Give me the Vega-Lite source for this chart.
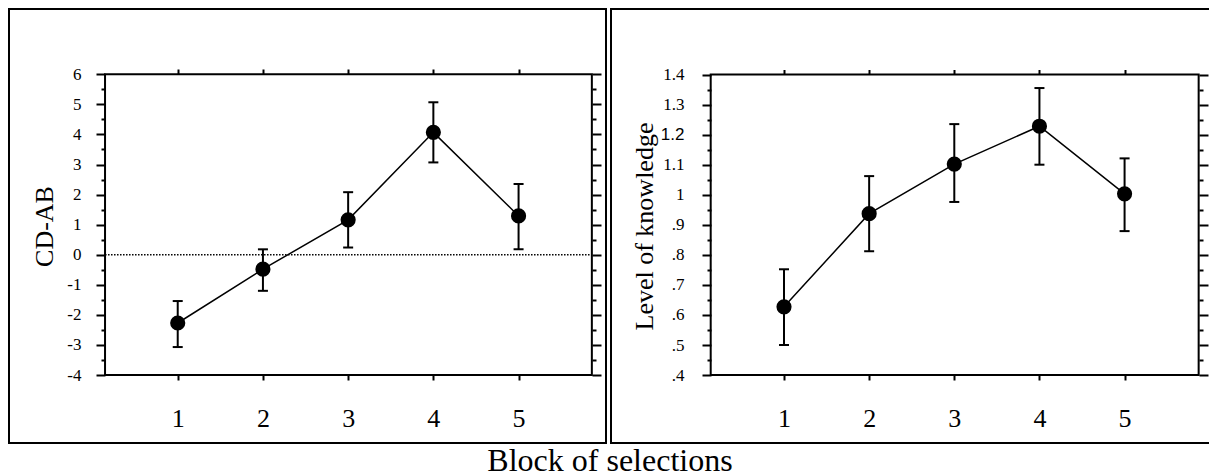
{
  "$schema": "https://vega.github.io/schema/vega-lite/v6.json",
  "padding": {"left": 8, "top": 8, "right": 0, "bottom": 0},
  "background": "white",
  "spacing": 3,
  "title": {"text": "Block of selections", "orient": "bottom", "anchor": "middle", "fontSize": 32, "font": "Liberation Serif", "fontWeight": "normal", "color": "black", "offset": 2},
  "config": {
    "view": {"stroke": "black", "strokeWidth": 2},
    "axis": {"domain": false, "grid": false, "tickColor": "black", "tickWidth": 2, "labelColor": "black", "labelFont": "Liberation Serif", "titleFont": "Liberation Serif", "titleColor": "black", "titleFontWeight": "normal", "labelFlush": false, "labelOverlap": false}
  },
  "hconcat": [
    {
      "width": 597,
      "height": 434,
      "data": {"values": [
        {"block": 1, "mean": -2.27, "lo": -3.07, "hi": -1.54},
        {"block": 2, "mean": -0.48, "lo": -1.2, "hi": 0.18},
        {"block": 3, "mean": 1.16, "lo": 0.24, "hi": 2.08},
        {"block": 4, "mean": 4.07, "lo": 3.07, "hi": 5.07},
        {"block": 5, "mean": 1.29, "lo": 0.18, "hi": 2.35}
      ]},
      "resolve": {"axis": {"x": "independent", "y": "independent"}},
      "layer": [
        {
          "data": {"values": [{}]},
          "mark": {"type": "rect", "fillOpacity": 0, "stroke": "black", "strokeWidth": 2},
          "encoding": {
            "x": {"datum": 0.147, "type": "quantitative", "scale": {"domain": [-0.98, 6.026], "nice": false, "zero": false},
                  "axis": {"orient": "bottom", "offset": -68, "values": [1, 2, 3, 4, 5], "tickSize": 5, "labelFont": "Liberation Serif", "labelFontSize": 26, "labelPadding": 25, "title": null}},
            "x2": {"datum": 5.86},
            "y": {"datum": -4, "type": "quantitative", "scale": {"domain": [-6.261, 8.172], "nice": false, "zero": false},
                  "axis": {"orient": "left", "offset": -96, "values": [-4, -3, -2, -1, 0, 1, 2, 3, 4, 5, 6], "tickSize": 9, "labelExpr": "datum.value + ''", "labelFont": {"condition": {"test": "datum.value > 100", "value": "Liberation Sans"}, "value": "Liberation Serif"}, "labelFontSize": 17, "labelPadding": 15, "title": "CD-AB", "titleFont": "Liberation Serif", "titleFontSize": 26, "titlePadding": 9}},
            "y2": {"datum": 6}
          }
        },
        {
          "data": {"values": [{}]},
          "mark": {"type": "rule", "stroke": "black", "strokeWidth": 1.3, "strokeDash": [1.5, 1.5]},
          "encoding": {
            "x": {"datum": 0.147, "type": "quantitative", "scale": {"domain": [-0.98, 6.026], "nice": false, "zero": false},
                  "axis": {"orient": "top", "offset": -65, "values": [1, 2, 3, 4, 5], "tickSize": 5, "labels": false, "title": null}},
            "x2": {"datum": 5.86},
            "y": {"datum": 0, "type": "quantitative", "scale": {"domain": [-6.261, 8.172], "nice": false, "zero": false},
                  "axis": {"orient": "right", "offset": -14, "values": [-4, -3, -2, -1, 0, 1, 2, 3, 4, 5, 6], "tickSize": 9, "labels": false, "title": null}}
          }
        },
        {
          "mark": {"type": "rule", "stroke": "black", "strokeWidth": 2},
          "encoding": {
            "x": {"field": "block", "type": "quantitative", "scale": {"domain": [-0.98, 6.026], "nice": false, "zero": false}, "axis": null},
            "y": {"field": "lo", "type": "quantitative", "scale": {"domain": [-6.261, 8.172], "nice": false, "zero": false},
                  "axis": {"orient": "left", "offset": -96, "values": [-3.5, -2.5, -1.5, -0.5, 0.5, 1.5, 2.5, 3.5, 4.5, 5.5], "tickSize": 4, "labels": false, "title": null}},
            "y2": {"field": "hi"}
          }
        },
        {
          "mark": {"type": "tick", "orient": "horizontal", "size": 10, "thickness": 2, "color": "black", "opacity": 1},
          "encoding": {
            "x": {"field": "block", "type": "quantitative", "scale": {"domain": [-0.98, 6.026], "nice": false, "zero": false}, "axis": null},
            "y": {"field": "lo", "type": "quantitative", "scale": {"domain": [-6.261, 8.172], "nice": false, "zero": false},
                  "axis": {"orient": "right", "offset": -14, "values": [-3.5, -2.5, -1.5, -0.5, 0.5, 1.5, 2.5, 3.5, 4.5, 5.5], "tickSize": 4, "labels": false, "title": null}}
          }
        },
        {
          "mark": {"type": "tick", "orient": "horizontal", "size": 10, "thickness": 2, "color": "black", "opacity": 1},
          "encoding": {
            "x": {"field": "block", "type": "quantitative", "scale": {"domain": [-0.98, 6.026], "nice": false, "zero": false}, "axis": null},
            "y": {"field": "hi", "type": "quantitative", "scale": {"domain": [-6.261, 8.172], "nice": false, "zero": false}, "axis": null}
          }
        },
        {
          "mark": {"type": "line", "stroke": "black", "strokeWidth": 1.5},
          "encoding": {
            "x": {"field": "block", "type": "quantitative", "scale": {"domain": [-0.98, 6.026], "nice": false, "zero": false}, "axis": null},
            "y": {"field": "mean", "type": "quantitative", "scale": {"domain": [-6.261, 8.172], "nice": false, "zero": false}, "axis": null}
          }
        },
        {
          "mark": {"type": "circle", "size": 230, "color": "black", "opacity": 1},
          "encoding": {
            "x": {"field": "block", "type": "quantitative", "scale": {"domain": [-0.98, 6.026], "nice": false, "zero": false}, "axis": null},
            "y": {"field": "mean", "type": "quantitative", "scale": {"domain": [-6.261, 8.172], "nice": false, "zero": false}, "axis": null}
          }
        }
      ]
    },
    {
      "width": 600,
      "height": 434,
      "data": {"values": [
        {"block": 1, "mean": 0.627, "lo": 0.5, "hi": 0.752},
        {"block": 2, "mean": 0.937, "lo": 0.812, "hi": 1.062},
        {"block": 3, "mean": 1.102, "lo": 0.976, "hi": 1.235},
        {"block": 4, "mean": 1.228, "lo": 1.1, "hi": 1.355},
        {"block": 5, "mean": 1.003, "lo": 0.879, "hi": 1.121}
      ]},
      "resolve": {"axis": {"x": "independent", "y": "independent"}},
      "layer": [
        {
          "data": {"values": [{}]},
          "mark": {"type": "rect", "fillOpacity": 0, "stroke": "black", "strokeWidth": 2},
          "encoding": {
            "x": {"datum": 0.139, "type": "quantitative", "scale": {"domain": [-1.032, 6.015], "nice": false, "zero": false},
                  "axis": {"orient": "bottom", "offset": -68, "values": [1, 2, 3, 4, 5], "tickSize": 5, "labelFont": "Liberation Serif", "labelFontSize": 26, "labelPadding": 25, "title": null}},
            "x2": {"datum": 5.87},
            "y": {"datum": 0.4, "type": "quantitative", "scale": {"domain": [0.174, 1.618], "nice": false, "zero": false},
                  "axis": {"orient": "left", "offset": -100, "values": [0.4, 0.5, 0.6, 0.7, 0.8, 0.9, 1, 1.1, 1.2, 1.3, 1.4], "tickSize": 9,
                           "labelExpr": "datum.value < 0.999 ? replace(format(datum.value, '.1f'), '0.', '.') : format(datum.value, '.1~f')",
                           "labelFont": {"condition": {"test": "abs(datum.value - 1.2) < 0.001", "value": "Liberation Sans"}, "value": "Liberation Serif"},
                           "labelFontSize": 17, "labelPadding": 18, "title": "Level of knowledge", "titleFont": "Liberation Serif", "titleFontSize": 26, "titlePadding": 3}},
            "y2": {"datum": 1.4}
          }
        },
        {
          "mark": {"type": "rule", "stroke": "black", "strokeWidth": 2},
          "encoding": {
            "x": {"field": "block", "type": "quantitative", "scale": {"domain": [-1.032, 6.015], "nice": false, "zero": false},
                  "axis": {"orient": "top", "offset": -65.5, "values": [1, 2, 3, 4, 5], "tickSize": 5, "labels": false, "title": null}},
            "y": {"field": "lo", "type": "quantitative", "scale": {"domain": [0.174, 1.618], "nice": false, "zero": false},
                  "axis": {"orient": "right", "offset": -12, "values": [0.4, 0.5, 0.6, 0.7, 0.8, 0.9, 1, 1.1, 1.2, 1.3, 1.4], "tickSize": 9, "labels": false, "title": null}},
            "y2": {"field": "hi"}
          }
        },
        {
          "mark": {"type": "tick", "orient": "horizontal", "size": 10, "thickness": 2, "color": "black", "opacity": 1},
          "encoding": {
            "x": {"field": "block", "type": "quantitative", "scale": {"domain": [-1.032, 6.015], "nice": false, "zero": false}, "axis": null},
            "y": {"field": "lo", "type": "quantitative", "scale": {"domain": [0.174, 1.618], "nice": false, "zero": false},
                  "axis": {"orient": "left", "offset": -100, "values": [0.45, 0.55, 0.65, 0.75, 0.85, 0.95, 1.05, 1.15, 1.25, 1.35], "tickSize": 4, "labels": false, "title": null}}
          }
        },
        {
          "mark": {"type": "tick", "orient": "horizontal", "size": 10, "thickness": 2, "color": "black", "opacity": 1},
          "encoding": {
            "x": {"field": "block", "type": "quantitative", "scale": {"domain": [-1.032, 6.015], "nice": false, "zero": false}, "axis": null},
            "y": {"field": "hi", "type": "quantitative", "scale": {"domain": [0.174, 1.618], "nice": false, "zero": false},
                  "axis": {"orient": "right", "offset": -12, "values": [0.45, 0.55, 0.65, 0.75, 0.85, 0.95, 1.05, 1.15, 1.25, 1.35], "tickSize": 4, "labels": false, "title": null}}
          }
        },
        {
          "mark": {"type": "line", "stroke": "black", "strokeWidth": 1.5},
          "encoding": {
            "x": {"field": "block", "type": "quantitative", "scale": {"domain": [-1.032, 6.015], "nice": false, "zero": false}, "axis": null},
            "y": {"field": "mean", "type": "quantitative", "scale": {"domain": [0.174, 1.618], "nice": false, "zero": false}, "axis": null}
          }
        },
        {
          "mark": {"type": "circle", "size": 230, "color": "black", "opacity": 1},
          "encoding": {
            "x": {"field": "block", "type": "quantitative", "scale": {"domain": [-1.032, 6.015], "nice": false, "zero": false}, "axis": null},
            "y": {"field": "mean", "type": "quantitative", "scale": {"domain": [0.174, 1.618], "nice": false, "zero": false}, "axis": null}
          }
        }
      ]
    }
  ]
}
